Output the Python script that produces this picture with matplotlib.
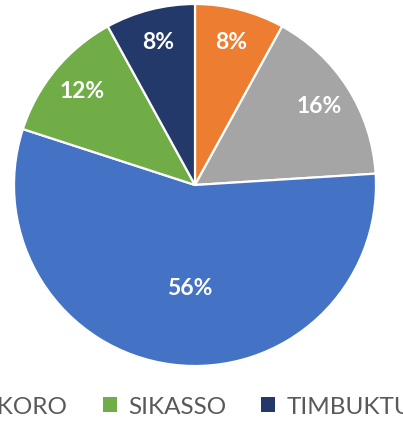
import matplotlib
matplotlib.use("Agg")
import matplotlib.pyplot as plt
from matplotlib.patches import Patch
import numpy as np

categories = ["KAYES", "MOPTI", "KOULIKORO", "SIKASSO", "TIMBUKTU"]
values = [8, 16, 56, 12, 8]
colors = ["#ED7D31", "#A5A5A5", "#4472C4", "#70AD47", "#22396A"]

W, H = 403, 423
fig = plt.figure(figsize=(W / 100, H / 100), dpi=100)
cx, cy, r = 195, 185, 181
ax = fig.add_axes([(cx - r) / W, 1 - (cy + r) / H, 2 * r / W, 2 * r / H])

wedges, texts, autotexts = ax.pie(
    values, colors=colors, startangle=90, counterclock=False,
    autopct=lambda p: f"{p:.0f}%", pctdistance=0.81,
    wedgeprops=dict(edgecolor="white", linewidth=1.6),
    textprops=dict(color="white", fontsize=16.5, fontweight="bold", family="Lato"),
)
# the large slice label sits closer to the centre
theta = np.deg2rad((wedges[2].theta1 + wedges[2].theta2) / 2 + 4)
autotexts[2].set_position((0.57 * np.cos(theta), 0.57 * np.sin(theta)))
ax.set_xlim(-1, 1)
ax.set_ylim(-1, 1)
ax.set_aspect("equal")
ax.axis("off")

handles = [Patch(facecolor=c, edgecolor="none") for c in colors]
leg_y = 1 - 407 / H
leg = fig.legend(handles, categories, loc="center left", bbox_to_anchor=(0, leg_y),
                 ncol=5, frameon=False, handlelength=0.58, handleheight=0.58,
                 handletextpad=0.45, columnspacing=1.45,
                 prop=dict(family="Lato", size=17.5), labelcolor="#595959",
                 borderpad=0, borderaxespad=0)
fig.canvas.draw()
rend = fig.canvas.get_renderer()
x0 = leg.get_texts()[3].get_window_extent(rend).x0
shift = 128 - x0
leg.set_bbox_to_anchor((shift / W, leg_y), transform=fig.transFigure)

fig.savefig("out.png", dpi=100, facecolor="white")
